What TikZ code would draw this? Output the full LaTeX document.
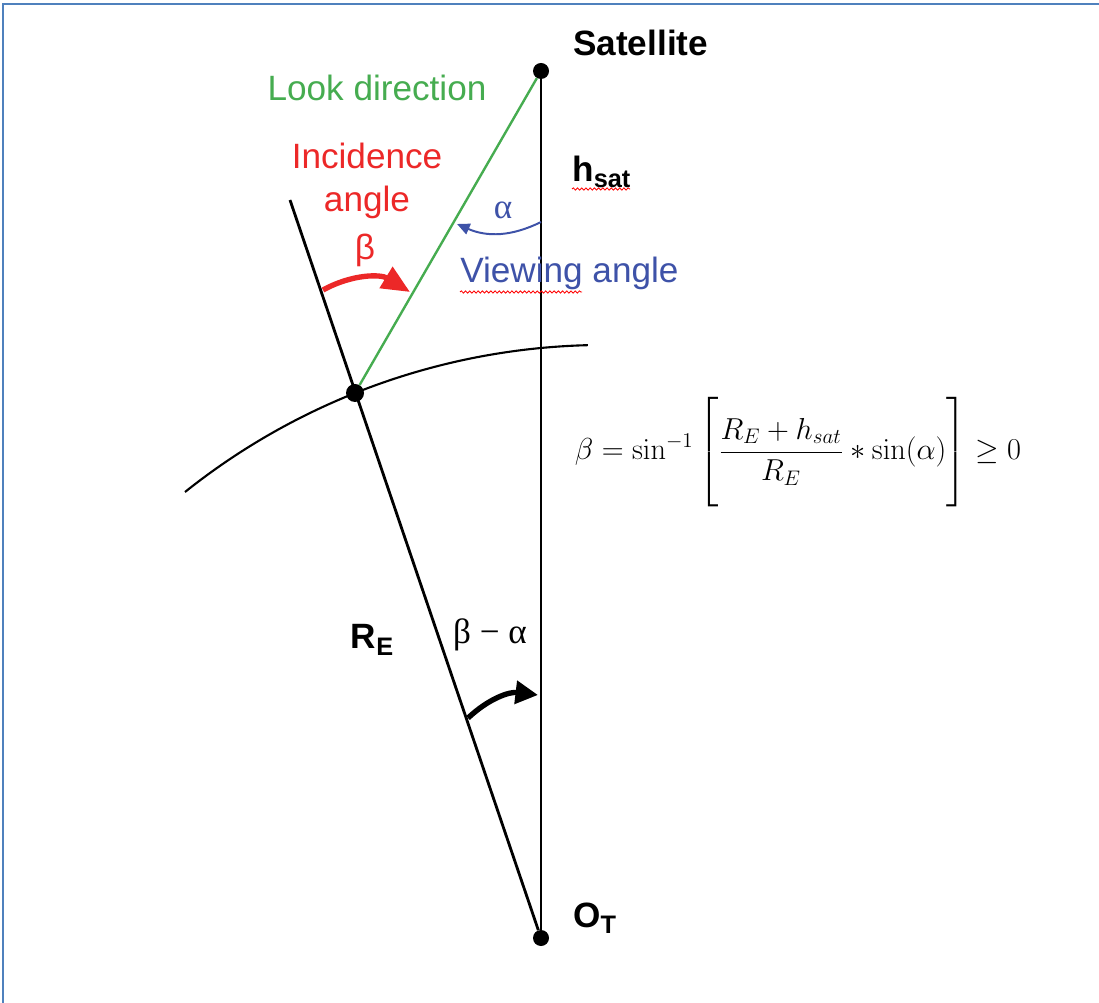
\documentclass[tikz,border=0pt]{standalone}
\usepackage{amsmath}
\usepackage{graphicx}
\usepackage[no-math]{fontspec}
\setmainfont{Liberation Sans}
\newfontfamily\serifgr{Liberation Serif}
\usepackage{tikz}
\usetikzlibrary{
    arrows.meta,
    calc,
    decorations.pathmorphing
}
\definecolor{frameblue}{RGB}{79,129,189}
\definecolor{lookgreen}{RGB}{70,172,80}
\definecolor{incred}{RGB}{236,40,40}
\definecolor{viewblue}{RGB}{62,82,168}
\tikzstyle{dot} = [circle, fill=black, inner sep=0pt, minimum size=0.4cm]
\tikzstyle{lbl} = [inner sep=0pt, font=\fontsize{25}{31}\selectfont]
\tikzstyle{blbl} = [inner sep=0pt, font=\fontsize{25}{31}\selectfont\bfseries]
\tikzstyle{glbl} = [inner sep=0pt, font=\serifgr\fontsize{25}{31}\selectfont]
\tikzstyle{squiggle} = [red, line width=0.6pt, decorate, decoration={snake, amplitude=0.8pt, segment length=3pt}]
\newcommand{\subsc}[1]{\raisebox{-0.35ex}{\fontsize{18}{20}\selectfont #1}}

\begin{document}
\begin{tikzpicture}[x=0.025cm, y=-0.025cm]

% Marco
\useasboundingbox (0,0) rectangle (1099,1003);
\draw[frameblue, line width=2pt] (3,1003) -- (3,4) -- (1099,4);

% Puntos
\node[dot] (sat) at (541,71) {};
\node[dot] (ot) at (541,938) {};
\node[dot, minimum size=0.45cm] (surf) at (355,393) {};
\coordinate (rtop) at (290,200);

% Lineas
\draw[line width=2pt] (sat) -- (ot);
\draw[line width=2pt] (ot) -- (rtop);
\draw[lookgreen, line width=1.7pt] (surf) -- (sat);

% Superficie
\draw[line width=1.5pt] (185,492) arc[start angle=231.4, end angle=268.55, radius=673];

% Angulos
\coordinate (b1) at (323,290);
\coordinate (b2) at (410,292);
\draw[incred, line width=3.8pt, -{Triangle[length=20pt,width=17pt]}] (b1) to[bend left=30] (b2);
\coordinate (a1) at (541,222);
\coordinate (a2) at (457,224);
\draw[viewblue, line width=1.4pt, -{Triangle[length=9pt,width=8pt]}] (a1) to[bend left=25] (a2);
\coordinate (d1) at (468,718);
\coordinate (d2) at (538,695);
\draw[line width=3.8pt, -{Triangle[length=16pt,width=16pt]}] (d1) to[bend left=25] (d2);

% Etiquetas
\node[blbl, anchor=west] (satlbl) at (573,43) {Satellite};
\node[lbl, lookgreen] (look) at (377,88) {Look direction};
\node[lbl, incred, align=center] (inc) at (367,181) {Incidence\\angle};
\node[lbl, incred] (beta) at (365,250) {β};
\node[blbl, anchor=west] (hsat) at (572,172) {h\subsc{sat}};
\node[glbl, viewblue] (alpha) at (503,210) {α};
\node[lbl, viewblue, anchor=west] (view) at (460,273) {Viewing angle};
\node[blbl] (re) at (372,640) {R\subsc{E}};
\node[glbl] (diff) at (490,635) {β − α};
\node[blbl, anchor=west] (otlbl) at (573,918) {O\subsc{T}};

% Subrayados
\draw[squiggle] (572,189) -- (630,189);
\draw[squiggle] (460,292) -- (582,292);

% Formula
\node[lbl] (formula) at (798,452) {\scalebox{1.04}{\fontsize{20.74}{25}\selectfont
  $\displaystyle \beta=\sin^{-1}\left[\rule[-32pt]{0pt}{75pt}\frac{R_E+h_{sat}}{R_E}*\sin(\alpha)\right]\geq 0$}};

\end{tikzpicture}
\end{document}
